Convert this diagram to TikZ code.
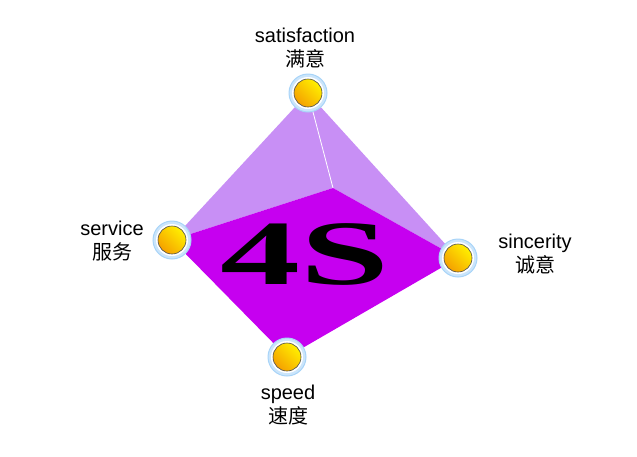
\documentclass[tikz,border=0pt]{standalone}
\usepackage{fontspec}
\setmainfont{Liberation Sans}
\newfontfamily\cjk{Noto Sans CJK SC}
\newfontfamily\bigserif{Liberation Serif}
\usetikzlibrary{shadings}
\definecolor{upper}{HTML}{C88FF5}
\definecolor{lower}{HTML}{C600F0}
\definecolor{ring}{HTML}{A8D4F8}
\definecolor{gold1}{HTML}{FFF000}
\definecolor{gold2}{HTML}{F5A000}
\tikzset{lbl/.style={font=\fontsize{20}{24}\selectfont, align=center, inner sep=0pt},
 ball/.style={circle, minimum size=28pt, draw=black!70, line width=0.6pt, shade, shading=axis, top color=gold1, bottom color=gold2, shading angle=-45}}
\begin{document}
\begin{tikzpicture}[x=1pt,y=-1pt]
\useasboundingbox (0,0) rectangle (637,456);
\coordinate (T) at (308,93);
\coordinate (L) at (172,240);
\coordinate (R) at (458,258);
\coordinate (B) at (287,357);
\coordinate (C) at (333,188);
\fill[upper] (T) -- (L) -- (C) -- (R) -- cycle;
\draw[white, line width=0.8pt] (T) -- (C);
\fill[lower] (L) -- (C) -- (R) -- (B) -- cycle;
\node[inner sep=0pt] (fs) at (305,254) {\scalebox{4}[2.3]{\bigserif\bfseries\fontsize{40}{40}\selectfont 4S}};
\foreach \p in {T,L,R,B}{
  \fill[ring!60] (\p) circle (19);
  \draw[ring, line width=1pt] (\p) circle (19);
  \fill[white] (\p) circle (16);
  \node[ball] at (\p) {};
}
\node[lbl] (t1) at (305,48) {satisfaction\\{\cjk 满意}};
\node[lbl] (l1) at (112,241) {service\\{\cjk 服务}};
\node[lbl] (r1) at (535,254) {sincerity\\{\cjk 诚意}};
\node[lbl] (b1) at (288,405) {speed\\{\cjk 速度}};
\end{tikzpicture}
\end{document}
